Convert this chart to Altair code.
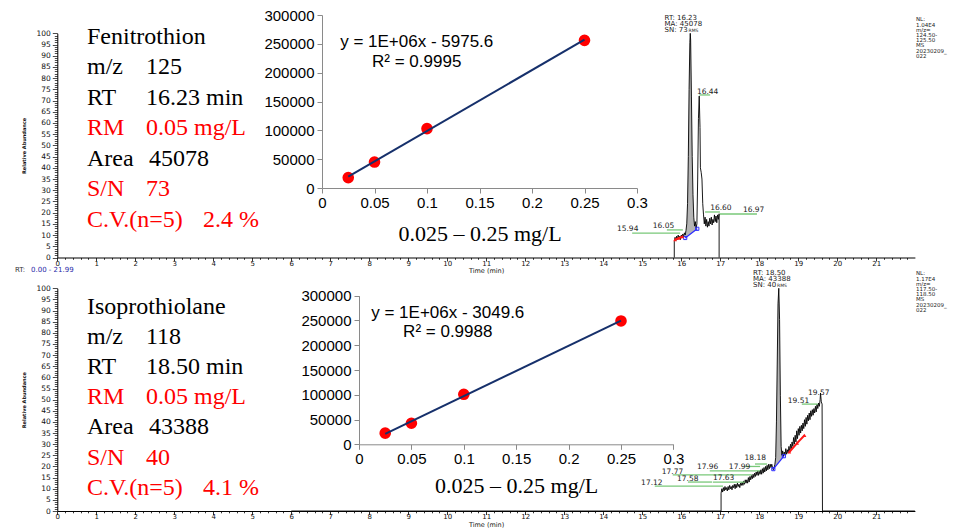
import altair as alt
import pandas as pd

# ---------------- chromatogram traces (time [min], relative abundance [%]) ----------------
top_t = [15.82, 15.82, 15.84, 15.86, 15.88, 15.90, 15.92, 15.94, 15.96, 15.98, 16.00, 16.02,
         16.04, 16.06, 16.08, 16.10, 16.12, 16.14, 16.16, 16.18, 16.20, 16.22, 16.23, 16.24,
         16.26, 16.28, 16.30, 16.32, 16.34, 16.36, 16.38, 16.40, 16.42, 16.44, 16.46, 16.48,
         16.49, 16.51, 16.53, 16.55, 16.57, 16.59, 16.61, 16.63, 16.65, 16.67, 16.69, 16.71,
         16.73, 16.75, 16.77, 16.79, 16.81, 16.83, 16.85, 16.87, 16.89, 16.91, 16.93, 16.95,
         16.97, 16.97]
top_i = [0, 7, 9, 7.5, 9.5, 8, 10, 8.5, 9.5, 8, 10, 9,
         10.5, 9, 11, 10, 12, 15, 24, 45, 75, 96, 100, 97,
         72, 45, 28, 18, 14, 16, 13, 15, 35, 62, 72, 58,
         40, 38, 35, 24, 19, 15, 18, 14, 17, 13.5, 16, 14,
         17.5, 15, 18, 14.5, 17, 15.5, 19, 16, 18.5, 15.5, 19, 17,
         19.5, 0]

bot_t = [6.00, 17.02, 17.02, 17.04, 17.06, 17.08, 17.10, 17.12, 17.14, 17.16, 17.18, 17.20, 17.22,
         17.24, 17.26, 17.28, 17.30, 17.32, 17.34, 17.36, 17.38, 17.40, 17.42, 17.44, 17.46,
         17.48, 17.50, 17.52, 17.54, 17.56, 17.58, 17.60, 17.62, 17.64, 17.66, 17.68, 17.70,
         17.72, 17.74, 17.76, 17.78, 17.80, 17.82, 17.84, 17.86, 17.88, 17.90, 17.92, 17.94,
         17.96, 17.98, 18.00, 18.02, 18.04, 18.06, 18.08, 18.10, 18.12, 18.14, 18.16, 18.18,
         18.20, 18.22, 18.24, 18.26, 18.28, 18.30, 18.32, 18.34, 18.36, 18.38, 18.40, 18.42,
         18.44, 18.46, 18.48, 18.50, 18.52, 18.54, 18.56, 18.58, 18.60, 18.62, 18.64, 18.66,
         18.68, 18.70, 18.72, 18.74, 18.76, 18.78, 18.80, 18.82, 18.84, 18.86, 18.88, 18.90,
         18.92, 18.94, 18.96, 18.98, 19.00, 19.02, 19.04, 19.06, 19.08, 19.10, 19.12, 19.14,
         19.16, 19.18, 19.20, 19.22, 19.24, 19.26, 19.28, 19.30, 19.32, 19.34, 19.36, 19.38,
         19.40, 19.42, 19.44, 19.46, 19.48, 19.50, 19.52, 19.54, 19.56, 19.57, 19.59, 19.61,
         19.62, 21.99]
bot_i = [0, 0, 8, 10, 8.5, 10.5, 9, 11, 9.5, 10.5, 9, 11, 9.5,
         11.5, 10, 11, 9.5, 11.5, 10.5, 12, 10, 12, 10.5, 12.5, 11,
         12, 10.5, 12.5, 11.5, 13, 11.5, 13.5, 12, 14, 12.5, 14, 12.5,
         15, 13, 15.5, 14, 16, 14.5, 16.5, 15, 17, 15.5, 17.5, 16,
         18, 16, 18, 16.5, 18.5, 16.5, 19, 17, 19.5, 17.5, 20, 18,
         20.5, 18.5, 21, 19, 21, 19.5, 21, 19.5, 18.5, 19.5, 21, 24,
         40, 66, 93, 100, 86, 52, 29, 25, 27, 24.5, 26.5, 25,
         28, 25.5, 27.5, 26, 29, 26.5, 30, 27.5, 31, 29, 33, 30,
         34, 31, 36, 32.5, 37, 34, 38, 35, 38.5, 36, 39.5, 37,
         41, 38, 42, 39, 43, 40.5, 44, 41, 45, 42.5, 45.5, 43,
         46, 44, 47, 44.5, 48, 46, 48.5, 47, 50, 53, 49, 48,
         0, 0]

# integration baselines (blue) and noise regions (red)
top_blue_t = [16.10, 16.41]
top_blue_i = [8.7, 12.8]
top_red_t = [15.84, 15.93, 16.03]
top_red_i = [8.0, 8.6, 9.3]
bot_blue_t = [18.36, 18.63]
bot_blue_i = [18.8, 24.6]
bot_red_t = [18.77, 18.97, 19.16]
bot_red_i = [26.5, 30.5, 34.0]

# peak labels (text anchor in time / %), and their green marker lines
top_lab = ["15.94", "16.05", "16.44", "16.60", "16.97"]
top_lab_t = [14.35, 15.27, 16.40, 16.74, 17.58]
top_lab_i = [12.6, 13.9, 74.0, 21.9, 21.0]
top_gl_t1 = [14.74, 15.63, 16.46, 16.61, 16.99]
top_gl_t2 = [15.97, 16.04, 16.74, 16.99, 17.94]
top_gl_i = [10.9, 12.3, 72.5, 20.3, 19.4]

bot_lab = ["17.12", "17.58", "17.63", "17.77", "17.96", "17.99", "18.18", "19.51", "19.57"]
bot_lab_t = [14.97, 15.89, 16.81, 15.50, 16.40, 17.22, 17.62, 18.73, 19.25]
bot_lab_i = [12.4, 14.2, 14.7, 17.4, 19.6, 19.6, 23.8, 49.2, 52.8]
bot_gl_t1 = [15.32, 16.17, 16.81, 15.78, 16.73, 17.63, 17.89, 19.09]
bot_gl_t2 = [17.07, 16.79, 17.63, 17.81, 18.02, 18.02, 18.20, 19.50]
bot_gl_i = [11.2, 13.0, 13.0, 16.2, 18.0, 20.0, 21.1, 48.0]

# peak information
top_peak = ["RT: 16.23", "MA: 45078", "SN: 73"]
top_peak_t = 15.57
top_peak_i = [107.0, 104.2, 101.4]
bot_peak = ["RT: 18.50", "MA: 43388", "SN: 40"]
bot_peak_t = 17.84
bot_peak_i = [107.0, 104.2, 101.4]

top_nl = ["NL:", "1.04E4", "m/z=", "124.50-", "125.50", "MS", "20230209_", "022"]
bot_nl = ["NL:", "1.17E4", "m/z=", "117.50-", "118.50", "MS", "20230209_", "022"]

# compound info blocks
info_lbl_top = ["Fenitrothion", "m/z", "RT", "RM", "Area", "S/N", "C.V.(n=5)"]
info_val_top = ["", "125", "16.23 min", "0.05 mg/L", "45078", "73", "2.4 %"]
info_lbl_bot = ["Isoprothiolane", "m/z", "RT", "RM", "Area", "S/N", "C.V.(n=5)"]
info_val_bot = ["", "118", "18.50 min", "0.05 mg/L", "43388", "40", "4.1 %"]
info_red = [False, False, False, True, False, True, True]

# calibration curves
conc = [0.025, 0.05, 0.1, 0.25]
area_top = [18000, 45000, 103000, 256000]
area_bot = [22500, 42500, 101000, 249000]
eq_top = ["y = 1E+06x - 5975.6", "R² = 0.9995"]
eq_top_pos = (0.0902, [253200, 218500])
eq_bot = ["y = 1E+06x - 3049.6", "R² = 0.9988"]
eq_bot_pos = (0.0847, [264500, 227300])
cal_title = "0.025 – 0.25 mg/L"

# ---------------- layout / style ----------------
W, H = 952, 520
CH = "DejaVu Sans"
X_RANGE = [49.3, 906.9]
x_ticks = [round(0.2 * k, 1) for k in range(110)]
y_ticks = list(range(0, 101))
cal_xticks = [0, 0.05, 0.1, 0.15, 0.2, 0.25, 0.3]
cal_yticks = [0, 50000, 100000, 150000, 200000, 250000, 300000]
INT_TEST = "abs(datum.value - round(datum.value)) < 0.001"


def chrom_x_axis(offset):
    return alt.Axis(
        orient="bottom", offset=offset, values=x_ticks, grid=False,
        domainColor="black", domainWidth=1, tickColor="black", tickWidth=0.8,
        tickSize={"condition": {"test": INT_TEST, "value": 3.5}, "value": 1.8},
        labelExpr=INT_TEST + " ? format(datum.value, 'd') : ''",
        labelFont=CH, labelFontSize=7, labelPadding=-2, labelOverlap=False,
        labelFlush=False, labelColor="#111",
        title="Time (min)", titleFont=CH, titleFontSize=6.5, titleFontWeight="normal",
        titlePadding=1.5, titleColor="#111")


def chrom_y_axis(offset):
    return alt.Axis(
        orient="left", offset=offset, values=y_ticks, grid=False,
        domainColor="black", domainWidth=1, tickColor="black", tickWidth=0.7,
        tickSize={"condition": {"test": "datum.value % 5 === 0", "value": 5}, "value": 3},
        labelExpr="datum.value % 5 === 0 ? '' + datum.value : ''",
        labelFont=CH, labelFontSize=7.5, labelPadding=2, labelOverlap=False,
        labelFlush=False, labelColor="#111",
        title="Relative Abundance", titleFont=CH, titleFontSize=5, titleFontWeight="bold",
        titlePadding=9, titleColor="#111")


def chrom_panel(t, i, blue_t, blue_i, red_t, red_i, lab, lab_t, lab_i, gl1, gl2, gli,
                peak, peak_t, peak_i, y_range, x_off):
    sx = alt.Scale(domain=[0, 21.99], range=X_RANGE, nice=False, zero=False)
    sy = alt.Scale(domain=[0, 100], range=y_range, nice=False, zero=False)
    X = lambda f, ax=None: alt.X(f, scale=sx, axis=ax)
    Y = lambda f, ax=None: alt.Y(f, scale=sy, axis=ax)

    df = pd.DataFrame({"t": t, "i": i})
    df["k"] = range(len(df))
    b0, b1 = blue_t
    v0, v1 = blue_i
    fill = (alt.Chart(df)
            .transform_filter(f"datum.t >= {b0} && datum.t <= {b1}")
            .transform_calculate(base=f"{v0} + (datum.t - {b0}) * {(v1 - v0) / (b1 - b0)}")
            .mark_area(color="#b4b4b4", opacity=1)
            .encode(x=X("t:Q"), y=Y("i:Q"), y2="base:Q"))
    trace = (alt.Chart(df).mark_line(color="black", strokeWidth=0.9)
             .encode(x=X("t:Q", chrom_x_axis(x_off)), y=Y("i:Q", chrom_y_axis(-49.3)),
                     order="k:Q"))
    blue = (alt.Chart(pd.DataFrame({"t": blue_t, "i": blue_i}))
            .mark_line(color="#2b2bff", strokeWidth=1.2,
                       point={"shape": "square", "filled": False, "size": 10,
                              "color": "#2b2bff", "strokeWidth": 1})
            .encode(x=X("t:Q"), y=Y("i:Q")))
    red = (alt.Chart(pd.DataFrame({"t": red_t, "i": red_i}))
           .mark_line(color="#ff1a1a", strokeWidth=2,
                      point={"shape": "triangle-up", "filled": True, "size": 14,
                             "color": "#ff1a1a"})
           .encode(x=X("t:Q"), y=Y("i:Q")))
    green = (alt.Chart(pd.DataFrame({"t1": gl1, "t2": gl2, "i": gli}))
             .mark_rule(color="#79c879", strokeWidth=1.3)
             .encode(x=X("t1:Q"), x2="t2:Q", y=Y("i:Q")))
    labels = (alt.Chart(pd.DataFrame({"t": lab_t, "i": lab_i, "s": lab}))
              .mark_text(font=CH, fontSize=7.5, align="left", baseline="middle", color="#222")
              .encode(x=X("t:Q"), y=Y("i:Q"), text="s:N"))
    pk = (alt.Chart(pd.DataFrame({"t": [peak_t] * 3, "i": peak_i, "s": peak}))
          .mark_text(font=CH, fontSize=7, align="left", baseline="middle", color="#222")
          .encode(x=X("t:Q"), y=Y("i:Q"), text="s:N"))
    rms = (alt.Chart(pd.DataFrame({"t": [peak_t], "i": [peak_i[2]], "s": ["RMS"]}))
           .mark_text(font=CH, fontSize=4.5, align="left", baseline="middle", color="#222",
                      dx=24, dy=0.5)
           .encode(x=X("t:Q"), y=Y("i:Q"), text="s:N"))
    return [fill, trace, blue, red, green, labels, pk, rms]


def cal_panel(area, eq, eq_pos, x_range, y_range, x_off, y_off, tpad):
    sx = alt.Scale(domain=[0, 0.3], range=x_range, nice=False, zero=False)
    sy = alt.Scale(domain=[0, 300000], range=y_range, nice=False, zero=False)
    xa = alt.Axis(orient="bottom", offset=x_off, values=cal_xticks, grid=False,
                  labelExpr="'' + datum.value", domainColor="#8a8a8a", tickColor="#8a8a8a",
                  tickSize=5, labelFont="Liberation Sans", labelFontSize=15, labelColor="black",
                  labelPadding=2, labelFlush=False, labelOverlap=False,
                  title=cal_title, titleFont="Liberation Serif", titleFontSize=22,
                  titleFontWeight="normal", titleColor="black", titlePadding=tpad)
    ya = alt.Axis(orient="left", offset=y_off, values=cal_yticks, grid=False, format="d",
                  domainColor="#8a8a8a", tickColor="#8a8a8a", tickSize=5,
                  labelFont="Liberation Sans", labelFontSize=15, labelColor="black",
                  labelPadding=3, labelFlush=False, labelOverlap=False, title=None)
    df = pd.DataFrame({"conc": conc, "area": area})
    pts = (alt.Chart(df).mark_circle(size=135, color="#ff0000", opacity=1)
           .encode(x=alt.X("conc:Q", scale=sx, axis=xa), y=alt.Y("area:Q", scale=sy, axis=ya)))
    reg = (alt.Chart(df).transform_regression("conc", "area", extent=[0.025, 0.25])
           .mark_line(color="#16306b", strokeWidth=2)
           .encode(x=alt.X("conc:Q", scale=sx, axis=None), y=alt.Y("area:Q", scale=sy, axis=None)))
    edf = pd.DataFrame({"conc": [eq_pos[0]] * 2, "area": eq_pos[1], "s": eq})
    txt = (alt.Chart(edf).mark_text(font="Liberation Sans", fontSize=17, align="center",
                                    baseline="middle", color="black")
           .encode(x=alt.X("conc:Q", scale=sx, axis=None), y=alt.Y("area:Q", scale=sy, axis=None),
                   text="s:N"))
    return [pts, reg, txt]


layers = []
layers += chrom_panel(top_t, top_i, top_blue_t, top_blue_i, top_red_t, top_red_i,
                      top_lab, top_lab_t, top_lab_i, top_gl_t1, top_gl_t2, top_gl_i,
                      top_peak, top_peak_t, top_peak_i, [249.5, 25.3], 249.5 - H)
layers += chrom_panel(bot_t, bot_i, bot_blue_t, bot_blue_i, bot_red_t, bot_red_i,
                      bot_lab, bot_lab_t, bot_lab_i, bot_gl_t1, bot_gl_t2, bot_gl_i,
                      bot_peak, bot_peak_t, bot_peak_i, [503.0, 280.3], 503.0 - H)
layers += cal_panel(area_top, eq_top, eq_top_pos, [314, 629], [180, 7], 180 - H, -314, 13)
layers += cal_panel(area_bot, eq_bot, eq_bot_pos, [351, 665.4], [436.3, 287.7], 436.3 - H, -351, 9)

# ---------------- free text in pixel positions ----------------
col2_x = [146, 146, 146, 146, 149, 146, 203]
rows = []
for lbls, vals, y0, dy in [(info_lbl_top, info_val_top, 35.5, 30.5),
                           (info_lbl_bot, info_val_bot, 305.5, 30.2)]:
    for k, (a, b) in enumerate(zip(lbls, vals)):
        c = "#ff0000" if info_red[k] else "black"
        rows.append({"x": 79, "y": y0 + k * dy, "s": a, "c": c})
        if b:
            rows.append({"x": col2_x[k] - 8, "y": y0 + k * dy, "s": b, "c": c})
info_df = pd.DataFrame(rows)
layers.append(
    alt.Chart(info_df)
    .mark_text(font="Liberation Serif", fontSize=24, align="left", baseline="alphabetic")
    .encode(x=alt.X("x:Q", scale=None, axis=None), y=alt.Y("y:Q", scale=None, axis=None),
            text="s:N", color=alt.Color("c:N", scale=None)))

nl_rows = []
for lines, y0 in [(top_nl, 11.3), (bot_nl, 265.3)]:
    for k, s in enumerate(lines):
        nl_rows.append({"x": 908, "y": y0 + k * 5.2, "s": s, "c": "#222", "fs": 5.5})
nl_rows.append({"x": 7, "y": 261.8, "s": "RT:", "c": "#333", "fs": 7})
nl_rows.append({"x": 23, "y": 261.8, "s": "0.00 - 21.99", "c": "#2a2aa8", "fs": 7})
nl_df = pd.DataFrame(nl_rows)
layers.append(
    alt.Chart(nl_df)
    .mark_text(font=CH, align="left", baseline="middle")
    .encode(x=alt.X("x:Q", scale=None, axis=None), y=alt.Y("y:Q", scale=None, axis=None),
            text="s:N", color=alt.Color("c:N", scale=None), size=alt.Size("fs:Q", scale=None)))

chart = (alt.layer(*layers)
         .resolve_scale(x="independent", y="independent")
         .properties(width=W, height=H, padding=0, background="white",
                     autosize=alt.AutoSizeParams(type="none"))
         .configure_view(strokeWidth=0))

chart.save("out.html", embed_options={"renderer": "svg", "actions": False})
